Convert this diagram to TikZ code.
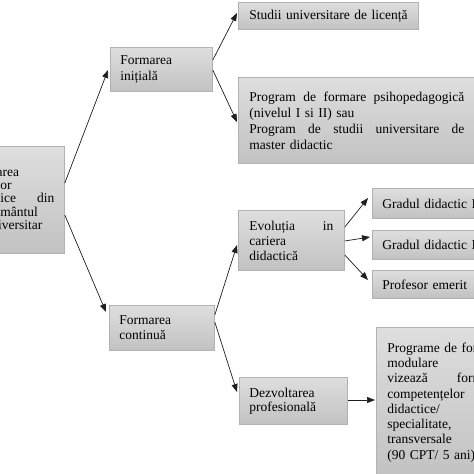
\documentclass[tikz,border=0pt]{standalone}
\usepackage{fontspec}
\setmainfont{Liberation Serif}
\usetikzlibrary{calc,arrows.meta}
\definecolor{boxtop}{RGB}{222,222,222}
\definecolor{boxbot}{RGB}{194,194,194}
\definecolor{boxline}{RGB}{178,178,178}
\definecolor{arrowc}{RGB}{30,30,30}
\tikzset{
  gbox/.style={draw=boxline, line width=0.8pt, top color=boxtop, bottom color=boxbot,
    anchor=north west, inner xsep=10pt, inner ysep=0pt, align=left,
    font=\fontsize{13.5}{15.5}\selectfont},
  conn/.style={draw=arrowc, line width=0.7pt, -{Triangle[length=8pt,width=6pt]}}
}
\begin{document}
\begin{tikzpicture}[x=1pt,y=-1pt]
\useasboundingbox (0,0) rectangle (474,474);
\clip (0,0) rectangle (474,474);
\fill[white] (0,0) rectangle (474,474);
% root
\node[gbox, text width=87pt, minimum height=107pt, font=\fontsize{13.5}{13.4}\selectfont] (root) at (-43,146)
  {Formarea\\cadrelor\\didactice\hfill din\\învățământul\\preuniversitar};
% level 1
\node[gbox, text width=82pt, minimum height=44pt] (init) at (110,47) {Formarea\\inițială};
\node[gbox, text width=85pt, minimum height=45pt, font=\fontsize{13.5}{15}\selectfont] (cont) at (109,305) {Formarea\\continuă};
% level 2
\node[gbox, inner xsep=11pt, text width=158pt, minimum height=27pt] (studii) at (238,2) {\mbox{Studii universitare de licență}};
\node[gbox, inner xsep=11pt, text width=215pt, minimum height=86pt, font=\fontsize{13.5}{16}\selectfont] (prog) at (238,77)
  {Program\hfill de\hfill formare\hfill psihopedagogică\\(nivelul I si II) sau\\Program\hfill de\hfill studii\hfill universitare\hfill de\\master didactic};
\node[gbox, inner xsep=11pt, text width=84pt, minimum height=60pt, font=\fontsize{13.5}{15}\selectfont] (evol) at (238,210)
  {Evoluția\hfill in\\cariera\\didactică};
\node[gbox, text width=88pt, minimum height=47pt, font=\fontsize{13.5}{14}\selectfont] (dezv) at (239,377)
  {Dezvoltarea\\profesională};
% level 3
\node[gbox, text width=120pt, minimum height=30pt] (g2) at (372,188) {Gradul didactic II};
\node[gbox, text width=120pt, minimum height=29pt] (g1) at (372,230) {Gradul didactic I};
\node[gbox, text width=120pt, minimum height=28pt] (pe) at (372,270) {Profesor emerit};
\node[gbox, inner xsep=11pt, text width=160pt, minimum height=150pt, font=\fontsize{13.5}{15.3}\selectfont] (mod) at (376,327)
  {Programe de formare\\modulare\\vizează\hspace{29pt}formarea\\competențelor\\didactice/\\specialitate,\\transversale\\(90 CPT/ 5 ani)};
% connectors
\draw[conn] ($(root.north east)+(0,37)$) -- ($(init.north west)+(-2,23)$);
\draw[conn] ($(root.north east)+(0,69)$) -- ($(cont.north west)+(-3,7)$);
\draw[conn] ($(init.north east)+(0,13)$) -- ($(studii.north west)+(-1,11)$);
\draw[conn] ($(init.north east)+(0,23)$) -- ($(prog.north west)+(-1,45)$);
\draw[conn] ($(cont.north east)+(0,10)$) -- ($(evol.north west)+(-1,35)$);
\draw[conn] ($(cont.north east)+(0,17)$) -- ($(dezv.north west)+(-2,15)$);
\draw[conn] ($(evol.north east)+(0,17)$) -- ($(g2.north west)+(-4,10)$);
\draw[conn] ($(evol.north east)+(0,31)$) -- ($(g1.north west)+(-2,7)$);
\draw[conn] ($(evol.north east)+(0,45)$) -- ($(pe.north west)+(-4,10)$);
\draw[conn] ($(dezv.north east)+(0,23)$) -- ($(mod.north west)+(-1,73)$);
\end{tikzpicture}
\end{document}
